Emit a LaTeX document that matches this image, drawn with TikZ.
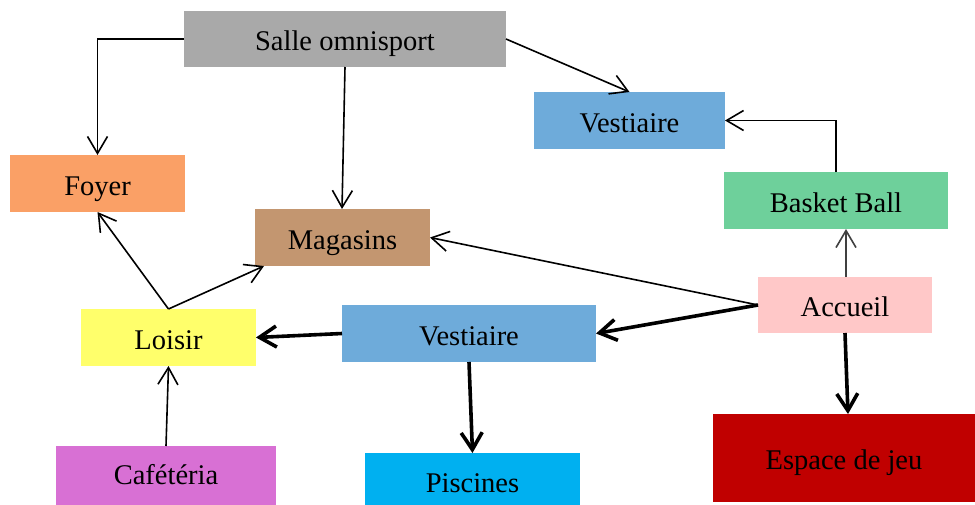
\documentclass[tikz,border=0pt]{standalone}
\usepackage{fontspec}
\setmainfont{Liberation Serif}
\usetikzlibrary{arrows.meta}
\definecolor{cSalle}{HTML}{A9A9A9}
\definecolor{cVest}{HTML}{6EABDA}
\definecolor{cFoyer}{HTML}{FAA066}
\definecolor{cBasket}{HTML}{6ED09B}
\definecolor{cMag}{HTML}{C39670}
\definecolor{cAcc}{HTML}{FFC8C8}
\definecolor{cLoisir}{HTML}{FFFF6B}
\definecolor{cCafe}{HTML}{D870D4}
\definecolor{cPisc}{HTML}{00B0F0}
\definecolor{cEsp}{HTML}{C00000}
\tikzset{
  box/.style={rectangle, inner sep=0pt, outer sep=0pt, draw=none, text=black,
    text height=26pt, text depth=3pt,
    font=\fontsize{28.5}{34}\selectfont},
  thinarr/.style={line width=1.6pt, -{Straight Barb[length=17pt,width=20pt]}},
  thickarr/.style={line width=3.6pt, -{Straight Barb[length=17pt,width=21pt]}},
}
\begin{document}
\begin{tikzpicture}[x=1pt,y=-1pt]
\useasboundingbox (0,0) rectangle (975,504);
\fill[white] (0,0) rectangle (975,504);
\node[box, fill=cSalle, minimum width=322pt, minimum height=56pt] (salle) at (345,39) {Salle omnisport};
\node[box, fill=cVest, minimum width=191pt, minimum height=57pt] (vest1) at (629.5,120.5) {Vestiaire};
\node[box, fill=cFoyer, minimum width=175pt, minimum height=57pt] (foyer) at (97.5,183.5) {Foyer};
\node[box, fill=cBasket, minimum width=224pt, minimum height=57pt] (basket) at (836,200.5) {Basket Ball};
\node[box, fill=cMag, minimum width=175pt, minimum height=57pt] (mag) at (342.5,237.5) {Magasins};
\node[box, fill=cAcc, minimum width=174pt, minimum height=56pt] (acc) at (845,305) {Accueil};
\node[box, fill=cLoisir, minimum width=175pt, minimum height=57pt] (loisir) at (168.5,337.5) {Loisir};
\node[box, fill=cVest, minimum width=254pt, minimum height=57pt] (vest2) at (469,333.5) {Vestiaire};
\node[box, fill=cEsp, minimum width=262pt, minimum height=88pt] (esp) at (844,458) {Espace de jeu};
\node[box, fill=cCafe, minimum width=220pt, minimum height=64pt, text height=21pt, text depth=9pt] (cafe) at (166,478) {Cafétéria};
\node[box, fill=cPisc, minimum width=215pt, minimum height=61pt, text height=22pt, text depth=5pt] (pisc) at (472.5,483.5) {Piscines};

\draw[thinarr] (salle.west) -| (foyer.north);
\draw[thinarr] (salle.south) -- ([xshift=-0.5pt]mag.north);
\draw[thinarr] (salle.east) -- (vest1.north);
\draw[thinarr] (basket.north) |- (vest1.east);
\draw[thinarr, draw=black!75] ([xshift=1pt]acc.north) -- ([xshift=10pt]basket.south);
\draw[thinarr] (acc.west) -- (mag.east);
\draw[thickarr] (acc.west) -- (vest2.east);
\draw[thickarr] (acc.south) -- ([xshift=4pt]esp.north);
\draw[thickarr] (vest2.west) -- (loisir.east);
\draw[thickarr] (vest2.south) -- (pisc.north);
\draw[thinarr] (loisir.north) -- (foyer.south);
\draw[thinarr] (loisir.north) -- ([xshift=9pt]mag.south west);
\draw[thinarr] (cafe.north) -- (loisir.south);
\end{tikzpicture}
\end{document}
